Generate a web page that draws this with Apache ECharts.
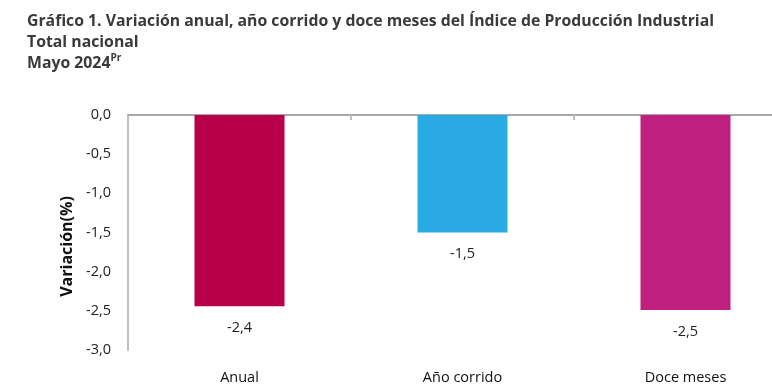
<!DOCTYPE html>
<html><head><meta charset="utf-8">
<script src="https://cdn.jsdelivr.net/npm/echarts@6/dist/echarts.min.js"></script>
<style>html,body{margin:0;padding:0;background:#fff}#c{width:772px;height:387px}</style>
</head><body><div id="c"></div>
<script>
const categories = ['Anual', 'Año corrido', 'Doce meses'];
const values = [-2.44, -1.5, -2.49];
const labels = ['-2,4', '-1,5', '-2,5'];
const barColors = ['#B8004A', '#29AAE2', '#BF2080'];
const yTicks = {min: -3, max: 0, interval: 0.5};

const chart = echarts.init(document.getElementById('c'));
chart.setOption({
  animation: false,
  title: {
    left: 22, top: 6,
    text: '{b|Gráfico 1. Variación anual, año corrido y doce meses del Índice de Producción Industrial}\n{b|Total nacional}\n{b|Mayo 2024}{s|Pr}',
    textStyle: {
      rich: {
        b: {fontFamily: 'Open Sans', fontWeight: 'bold', fontSize: 15.8, color: '#3a3a3a', lineHeight: 21},
        s: {fontFamily: 'Open Sans', fontWeight: 'bold', fontSize: 10, color: '#3a3a3a', lineHeight: 21, verticalAlign: 'top', padding: [0,0,8,0]}
      }
    }
  },
  grid: {left: 128, width: 669, top: 115, bottom: 37, outerBoundsMode: 'none', containLabel: false},
  xAxis: [{
    type: 'category', data: categories, position: 'top',
    axisLine: {lineStyle: {color: '#8c8c8c', width: 1.5}},
    axisTick: {show: true, inside: true, length: 5, lineStyle: {color: '#bfbfbf', width: 2}},
    axisLabel: {show: false}
  }, {
    type: 'category', data: categories, position: 'bottom',
    axisLine: {show: false}, axisTick: {show: false},
    axisLabel: {fontFamily: 'Open Sans', fontSize: 14.5, color: '#111', margin: 20}
  }],
  yAxis: {
    type: 'value', min: yTicks.min, max: yTicks.max, interval: yTicks.interval,
    name: 'Variación(%)', nameLocation: 'middle', nameGap: 38,
    nameTextStyle: {fontFamily: 'Open Sans', fontWeight: 'bold', fontSize: 16, color: '#111', padding: [0, 28, 0, 0]},
    axisLine: {show: true, lineStyle: {color: '#bfbfbf', width: 2}},
    axisTick: {show: false},
    splitLine: {show: false},
    axisLabel: {fontFamily: 'Open Sans', fontSize: 14.5, color: '#222', margin: 17,
      formatter: v => v.toFixed(1).replace('.', ',')}
  },
  series: [{
    type: 'bar', barWidth: 90,
    data: values.map((v, i) => ({value: v, itemStyle: {color: barColors[i]}})),
    label: {show: true, position: 'bottom', distance: 14, fontFamily: 'Open Sans', fontSize: 14.5, color: '#222',
      formatter: p => labels[p.dataIndex]}
  }]
});
</script></body></html>
